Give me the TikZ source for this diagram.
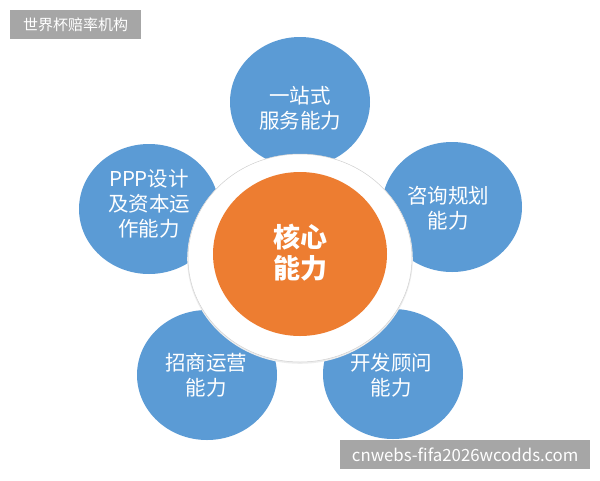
\documentclass[tikz,border=0pt]{standalone}
\usepackage{fontspec}
\newfontfamily\cjk{Noto Sans CJK SC}
\definecolor{cblue}{HTML}{5B9BD5}
\definecolor{corange}{HTML}{ED7D31}
\definecolor{cgray}{HTML}{A6A6A6}
\begin{document}
\begin{tikzpicture}[x=1pt,y=-1pt,
  bluec/.style={fill=cblue,draw=none},
  btext/.style={text=white,font=\cjk\fontsize{20.5}{25}\selectfont,align=center,inner sep=0pt},
  tag/.style={fill=cgray,text=white,inner sep=0pt,minimum height=29pt,font=\cjk\fontsize{15}{18}\selectfont}]
\useasboundingbox (0,0) rectangle (600,480);
\fill[white] (0,0) rectangle (600,480);
% blue circles
\fill[bluec] (300,102) ellipse [x radius=70, y radius=65];
\fill[bluec] (149,209) ellipse [x radius=70, y radius=65];
\fill[bluec] (452,207) ellipse [x radius=70, y radius=65];
\fill[bluec] (207,375) ellipse [x radius=70, y radius=65];
\fill[bluec] (393,374) ellipse [x radius=70, y radius=65];
% ring
\fill[black!7] (300,259) ellipse [x radius=112.8, y radius=104.8];
\filldraw[fill=white,draw=black!18,line width=0.5pt] (300,258) ellipse [x radius=112, y radius=104];
\fill[corange] (300,254) ellipse [x radius=87, y radius=82];
% texts
\node[btext] (t1) at (300,108) {一站式\\服务能力};
\node[btext] (t2) at (149,204) {PPP设计\\及资本运\\作能力};
\node[btext] (t3) at (448,208) {咨询规划\\能力};
\node[btext] (t4) at (206,375) {招商运营\\能力};
\node[btext] (t5) at (391,375) {开发顾问\\能力};
\node[text=white,font=\cjk\bfseries\fontsize{27}{31}\selectfont,align=center,inner sep=0pt] (core) at (300,253) {核心\\能力};
% tags
\node[tag,minimum width=131pt,anchor=north west] (tagA) at (10,10) {世界杯赔率机构};
\node[tag,minimum width=250pt,anchor=north west] (tagB) at (340,440) {\fontsize{16.8}{18}\selectfont cnwebs-fifa2026wcodds.com};
\end{tikzpicture}
\end{document}
